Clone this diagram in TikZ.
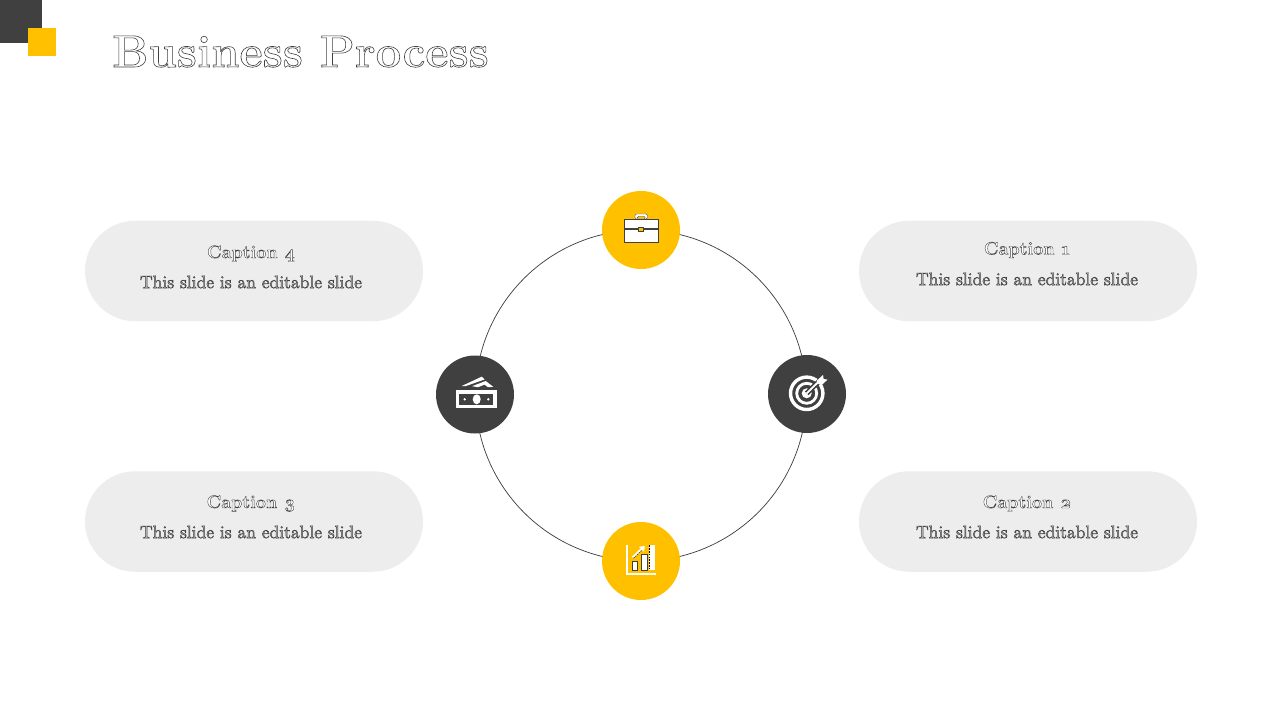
\documentclass[tikz,border=0pt]{standalone}
\usepackage{fontspec}
\usepackage{xcolor}
\definecolor{darkc}{HTML}{404040}
\definecolor{yel}{HTML}{FFC000}
\definecolor{pill}{HTML}{EDEDED}
\definecolor{bodyfill}{HTML}{B8B8B8}
\newcommand{\outl}[2]{\special{pdf:code q 2 Tr #1 w 0.25 G}#2\special{pdf:code Q}}
\newcommand{\osn}[1]{\XeTeXglyph\XeTeXglyphindex "#1.oldstyle"\relax}
\tikzset{
  pillbox/.style={draw=none,fill=pill,rounded corners=37.6pt,minimum width=338*0.75pt,minimum height=100.5*0.75pt,inner sep=0},
  hub/.style={circle,draw=none,minimum size=78*0.75pt,inner sep=0},
  captext/.style={inner sep=0,text=white,font=\fontsize{13.5}{16}\selectfont\bfseries},
  bodytext/.style={inner sep=0,text=bodyfill,font=\fontsize{13.4}{16}\selectfont},
  icon/.style={fill=white,draw=darkc,line width=0.2pt},
}
\begin{document}
\begin{tikzpicture}[x=0.75pt,y=-0.75pt]
\useasboundingbox (0,0) rectangle (1280,720);
\fill[darkc] (0,0) rectangle (42,43);
\fill[yel] (28,28) rectangle (56,56);
\node[anchor=base west,inner sep=0,text=white,font=\fontsize{34}{36}\selectfont\bfseries] (title) at (112,67) {\outl{0.45}{Business Process}};
% ring
\node[circle,draw=darkc,line width=0.55pt,minimum size=331*0.75pt,inner sep=0] (ring) at (641,395.5) {};
% pills
\node[pillbox] (p4) at (254,271) {};
\node[pillbox] (p3) at (254,521.5) {};
\node[pillbox] (p1) at (1028,271) {};
\node[pillbox] (p2) at (1028,521.5) {};
\node[captext] (c4) at (251,253.5) {\outl{0.3}{Caption \osn{four}}};
\node[bodytext] (b4) at (251,282) {\outl{0.35}{This slide is an editable slide}};
\node[captext] (c3) at (251,503.5) {\outl{0.3}{Caption \osn{three}}};
\node[bodytext] (b3) at (251,532) {\outl{0.35}{This slide is an editable slide}};
\node[captext] (c1) at (1027,250) {\outl{0.3}{Caption \osn{one}}};
\node[bodytext] (b1) at (1027,279) {\outl{0.35}{This slide is an editable slide}};
\node[captext] (c2) at (1027,503.5) {\outl{0.3}{Caption \osn{two}}};
\node[bodytext] (b2) at (1027,532) {\outl{0.35}{This slide is an editable slide}};
% hubs
\node[hub,fill=yel] (top) at (641,230) {};
\node[hub,fill=yel] (bot) at (641,561) {};
\node[hub,fill=darkc] (lef) at (475,394.5) {};
\node[hub,fill=darkc] (rig) at (807,394) {};
% briefcase
\draw[icon,rounded corners=1pt,even odd rule] (635,219) -- (635,214) -- (647.5,214) -- (647.5,219) -- cycle (637.2,219) -- (637.2,216.3) -- (645.3,216.3) -- (645.3,219) -- cycle;
\draw[icon] (624.3,219) rectangle (657.7,227.7);
\draw[icon] (624.3,229.3) rectangle (657.7,242.3);
\fill[yel,draw=darkc,line width=0.2pt] (638.3,226.7) rectangle (643.3,231);
% target
\draw[white,line width=3.4*0.75pt] (806.7,393.3) circle (16.2);
\draw[white,line width=2.8*0.75pt] (806.7,393.3) circle (10);
\fill[white] (806.7,393.3) circle (5);
\draw[darkc,line width=5*0.75pt] (806.7,393.3) -- (825,375.5);
\draw[white,line width=1.8*0.75pt] (806.7,393.3) -- (819,381.3);
\fill[white] (816.5,381) -- (821.5,376.3) -- (823,374.8) -- (823.6,379) -- (827.5,379.6) -- (822.5,384.3) -- (818.5,384) -- cycle;
% money
\fill[white] (461.7,386) -- (481.7,376.7) -- (484.5,379.5) -- (466,386) -- cycle;
\fill[white] (472,386.2) -- (485.7,381) -- (493.3,386.9) -- (488,387.2) -- (484.5,384.6) -- (478,387.2) -- cycle;
\fill[white] (456,390) rectangle (496.7,408.3);
\fill[darkc] (459.3,394) rectangle (493.3,405);
\fill[white] (476.7,399.3) ellipse (4 and 5);
\fill[white] (464.7,399.3) circle (1.3);
\fill[white] (488.3,399.3) circle (1.3);
% chart
\fill[white] (626,545.3) rectangle (628.3,575.3);
\fill[white] (626,573) rectangle (655.7,575.3);
\draw[icon] (631.7,561.3) rectangle (637.3,570.3);
\draw[icon] (640.7,554) rectangle (646.7,570.3);
\fill[white] (649,545.3) rectangle (655,570.3);
\draw[black,dash pattern=on 1.3pt off 0.8pt,line width=0.6pt] (649,545.3) -- (649,570.3);
\draw[white,line width=2*0.75pt] (632.5,557.5) -- (641.5,549);
\draw[black,dash pattern=on 1pt off 0.8pt,line width=0.3pt] (633.5,558.2) -- (642,550);
\fill[white] (639,546.8) -- (644.8,546) -- (644,551.8) -- cycle;
\end{tikzpicture}
\end{document}
